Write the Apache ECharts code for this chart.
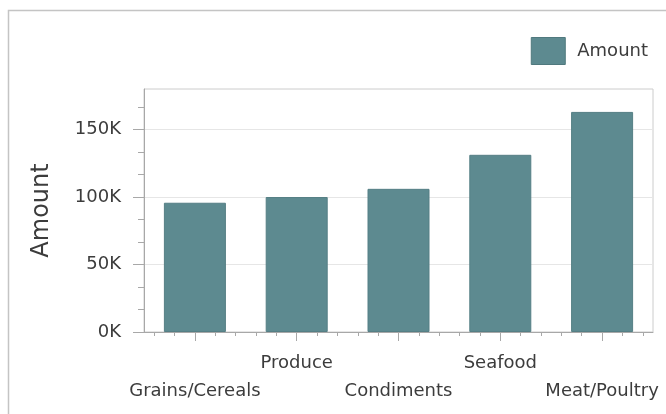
<!DOCTYPE html>
<html>
<head>
<meta charset="utf-8">
<script src="https://cdn.jsdelivr.net/npm/echarts@6/dist/echarts.min.js"></script>
<style>
  html, body { margin: 0; padding: 0; background: #fff; }
  #main { width: 666px; height: 414px; }
</style>
</head>
<body>
<div id="main"></div>
<script>
  // categories and amounts
  var categories = ['Grains/Cereals', 'Produce', 'Condiments', 'Seafood', 'Meat/Poultry'];
  var amounts = [95744, 99984, 106047, 131261, 163022];
  var yTicks = [0, 50000, 100000, 150000];
  var seriesName = 'Amount';

  var barColor = '#5d8a90';
  var textColor = '#3c3c3c';
  var tickColor = '#a8a8a8';
  var fontFamily = 'DejaVu Sans';

  // small ticks: 5 per category, 3 per y step
  var minorCats = [];
  for (var i = 0; i < categories.length * 5; i++) minorCats.push('');
  var minorY = [];
  for (var v = 0; v <= 170000; v += 50000 / 3) minorY.push(Math.round(v));

  var chart = echarts.init(document.getElementById('main'), null, { renderer: 'canvas' });
  chart.setOption({
    animation: false,
    textStyle: { fontFamily: fontFamily },
    graphic: [{
      type: 'rect',
      shape: { x: 8.5, y: 10.5, width: 700, height: 500 },
      style: { fill: 'none', stroke: '#c4c4c4', lineWidth: 1.5 },
      silent: true
    }],
    legend: {
      data: [seriesName],
      right: 13,
      top: 32,
      itemWidth: 34,
      itemHeight: 27,
      icon: 'rect',
      itemStyle: { borderColor: '#50797e', borderWidth: 1 },
      textStyle: { fontSize: 18, color: textColor, fontFamily: fontFamily, padding: [0, 0, 0, 7] }
    },
    grid: {
      left: 144, right: 13, top: 89, bottom: 82,
      show: true, borderColor: '#cccccc', borderWidth: 1
    },
    xAxis: [{
      type: 'category',
      data: categories,
      boundaryGap: true,
      axisLine: { show: true, lineStyle: { color: tickColor, width: 1 } },
      axisTick: { show: true, interval: 0, alignWithLabel: true, length: 9, lineStyle: { color: tickColor } },
      axisLabel: {
        interval: 0,
        margin: 17,
        fontSize: 18,
        lineHeight: 28,
        color: textColor,
        formatter: function (name, idx) { return idx % 2 === 0 ? '\n' + name : name; }
      },
      splitLine: { show: false }
    }, {
      type: 'category',
      data: minorCats,
      position: 'bottom',
      boundaryGap: true,
      axisLine: { show: false },
      axisTick: { show: true, interval: 0, alignWithLabel: true, length: 4, lineStyle: { color: tickColor } },
      axisLabel: { show: false },
      splitLine: { show: false }
    }],
    yAxis: [{
      type: 'value',
      name: seriesName,
      nameLocation: 'middle',
      nameGap: 90,
      nameTextStyle: { fontSize: 24, color: textColor, fontFamily: fontFamily },
      min: 0,
      max: 180000,
      interval: 50000,
      axisLine: { show: true, lineStyle: { color: tickColor, width: 1 } },
      axisTick: { show: true, length: 11, customValues: yTicks, lineStyle: { color: tickColor } },
      axisLabel: {
        margin: 23,
        fontSize: 18,
        color: textColor,
        customValues: yTicks,
        formatter: function (v) { return (v / 1000) + 'K'; }
      },
      splitLine: { lineStyle: { color: '#e6e6e6' } }
    }, {
      type: 'value',
      position: 'left',
      min: 0,
      max: 180000,
      axisLine: { show: false },
      axisTick: { show: true, length: 6, customValues: minorY, lineStyle: { color: tickColor } },
      axisLabel: { show: false },
      splitLine: { show: false }
    }],
    series: [{
      name: seriesName,
      type: 'bar',
      data: amounts,
      barWidth: 62,
      itemStyle: { color: barColor, borderColor: '#557f85', borderWidth: 1 }
    }]
  });
</script>
</body>
</html>
